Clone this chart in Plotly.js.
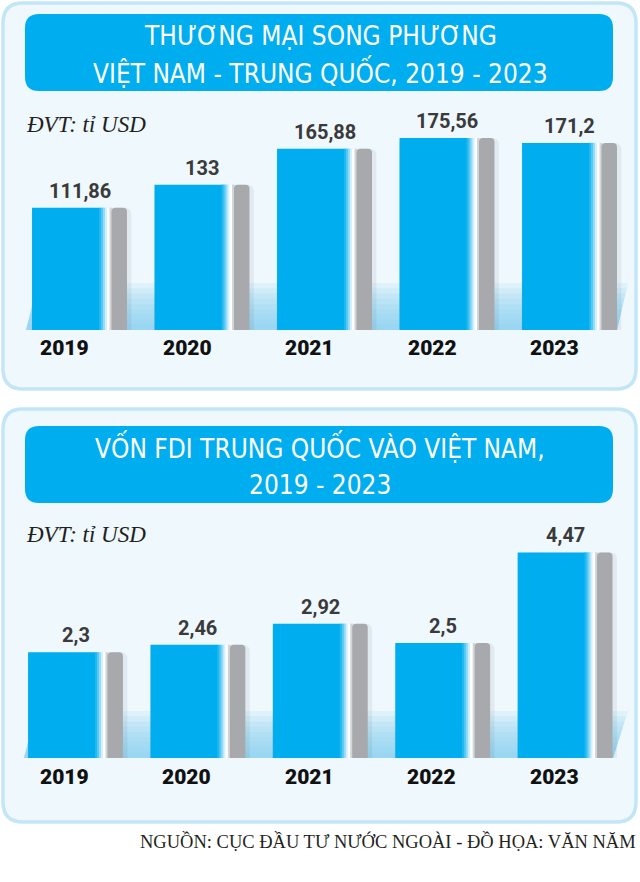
<!DOCTYPE html>
<html>
<head>
<meta charset="utf-8">
<script src="https://cdn.plot.ly/plotly-3.0.1.min.js"></script>
<style>
  html, body { margin: 0; padding: 0; background: #ffffff; }
  #chart { width: 640px; height: 882px; }
</style>
</head>
<body>
<div id="chart"></div>
<script>
// ---------------- DATA ----------------
const years = ['2019', '2020', '2021', '2022', '2023'];
const tradeValues = [111.86, 133, 165.88, 175.56, 171.2];   // tỉ USD
const fdiValues = [2.3, 2.46, 2.92, 2.5, 4.47];              // tỉ USD
const tradeTitle = ['THƯƠNG MẠI SONG PHƯƠNG', 'VIỆT NAM - TRUNG QUỐC, 2019 - 2023'];
const fdiTitle = ['VỐN FDI TRUNG QUỐC VÀO VIỆT NAM,', '2019 - 2023'];
const unitLabel = 'ĐVT: tỉ USD';
const sourceLabel = 'NGUỒN: CỤC ĐẦU TƯ NƯỚC NGOÀI - ĐỒ HỌA: VĂN NĂM';

// ---------------- STYLE / GEOMETRY ----------------
const W = 640, H = 882;
const fx = x => x / W;
const fy = y => 1 - y / H;
const NARROW = '"Liberation Sans Narrow", "DejaVu Sans Condensed", "Arial Narrow", sans-serif';
const LABEL = 'Roboto, "DejaVu Sans Condensed", sans-serif';
const SERIF = '"Liberation Serif", "DejaVu Serif", serif';

const BAR_W = 0.775;           // in category units
const BAR_PX = 95;             // reference px width for segments
// [start px, end px, colour, corner radius]
const segs = [
  [0, 67, '#00aeef', 0],
  [67, 69, '#22b8f0', 0],
  [69, 71, '#55c8f3', 0],
  [71, 73, '#94dbf7', 0],
  [73, 75, '#d4f0fb', 0],
  [75, 77.5, '#ffffff', 0],
  [77.5, 79.5, '#d4d5d7', 0],
  [79.5, 95, '#a7a9ac', 4]
];

function fmt(v) { return String(v).replace('.', ','); }

function barTraces(xa, ya, vals) {
  const out = [];
  // soft shadow
  out.push({
    type: 'bar', x: years, y: vals, xaxis: xa, yaxis: ya,
    offset: -BAR_W / 2 - 0.004, width: BAR_W + 0.04,
    marker: { color: 'rgba(60,60,70,0.07)', cornerradius: 6, line: { width: 0 } },
    hoverinfo: 'skip', showlegend: false
  });
  segs.forEach(s => {
    const extra = s[1] < BAR_PX ? 0.6 : 0;
    out.push({
      type: 'bar', x: years, y: vals, xaxis: xa, yaxis: ya,
      offset: -BAR_W / 2 + s[0] / BAR_PX * BAR_W,
      width: (s[1] - s[0] + extra) / BAR_PX * BAR_W,
      marker: { color: s[2], cornerradius: s[3], line: { width: 0 } },
      hoverinfo: 'skip', showlegend: false
    });
  });
  return out;
}

function rr(x0, y0, x1, y1, r) {
  return 'M ' + fx(x0 + r) + ',' + fy(y0) +
    ' L ' + fx(x1 - r) + ',' + fy(y0) +
    ' Q ' + fx(x1) + ',' + fy(y0) + ' ' + fx(x1) + ',' + fy(y0 + r) +
    ' L ' + fx(x1) + ',' + fy(y1 - r) +
    ' Q ' + fx(x1) + ',' + fy(y1) + ' ' + fx(x1 - r) + ',' + fy(y1) +
    ' L ' + fx(x0 + r) + ',' + fy(y1) +
    ' Q ' + fx(x0) + ',' + fy(y1) + ' ' + fx(x0) + ',' + fy(y1 - r) +
    ' L ' + fx(x0) + ',' + fy(y0 + r) +
    ' Q ' + fx(x0) + ',' + fy(y0) + ' ' + fx(x0 + r) + ',' + fy(y0) + ' Z';
}

function band(yt, yb, xlb, xlt, xrb, xrt, n) {
  const out = [];
  for (let i = 0; i < n; i++) {
    const t = i / n;
    const y = yt + t * (yb - yt);
    const xl = xlt + t * (xlb - xlt);
    const xr = xrt + t * (xrb - xrt);
    out.push({
      type: 'path', xref: 'paper', yref: 'paper', layer: 'below',
      path: 'M ' + fx(xl) + ',' + fy(y) + ' L ' + fx(xr) + ',' + fy(y) +
        ' L ' + fx(xrb) + ',' + fy(yb) + ' L ' + fx(xlb) + ',' + fy(yb) + ' Z',
      fillcolor: 'rgba(130,205,240,0.14)', line: { width: 0 }
    });
  }
  return out;
}

const shapes = [
  // panel 1
  { type: 'path', xref: 'paper', yref: 'paper', layer: 'below', path: rr(3, 3, 636, 389, 20),
    fillcolor: '#eef8fd', line: { color: '#c3e6f7', width: 3.5 } },
  { type: 'path', xref: 'paper', yref: 'paper', layer: 'below', path: rr(25, 14, 613, 91, 14),
    fillcolor: '#00aeef', line: { width: 0 } },
  // panel 2
  { type: 'path', xref: 'paper', yref: 'paper', layer: 'below', path: rr(3, 409, 636, 822, 20),
    fillcolor: '#eef8fd', line: { color: '#c3e6f7', width: 3.5 } },
  { type: 'path', xref: 'paper', yref: 'paper', layer: 'below', path: rr(25, 426, 613, 503, 14),
    fillcolor: '#00aeef', line: { width: 0 } }
].concat(
  band(283, 330, 26, 38, 617, 628, 9),
  band(711, 758, 24, 36, 613, 628, 9)
);

// ---------------- ANNOTATIONS ----------------
const ann = [];
function txt(text, x, y, size, color, family, opts) {
  ann.push(Object.assign({
    text: text, xref: 'paper', yref: 'paper', x: fx(x), y: fy(y),
    xanchor: 'center', yanchor: 'middle', showarrow: false,
    font: { family: family, size: size, color: color }
  }, opts || {}));
}
txt(tradeTitle[0], 320, 36, 26, '#ffffff', NARROW);
txt(tradeTitle[1], 320, 72, 26, '#ffffff', NARROW);
txt(fdiTitle[0], 320, 447, 26, '#ffffff', NARROW);
txt(fdiTitle[1], 320, 485, 26, '#ffffff', NARROW);
txt('<i>' + unitLabel + '</i>', 24, 124, 23, '#231f20', SERIF, { xanchor: 'left' });
txt('<i>' + unitLabel + '</i>', 24, 534, 23, '#231f20', SERIF, { xanchor: 'left' });
txt(sourceLabel, 638, 841, 18.5, '#231f20', SERIF, { xanchor: 'right' });

function valueLabels(xa, ya, vals, yearY, yearShift) {
  years.forEach((yr, i) => {
    // category axes take the category's index as annotation position
    ann.push({
      text: fmt(vals[i]), xref: xa, yref: ya, x: i, y: vals[i],
      xanchor: 'center', yanchor: 'bottom', yshift: 3, showarrow: false,
      font: { family: LABEL, size: 20, color: '#3a3a3a', weight: 'bold' }
    });
    ann.push({
      text: yr, xref: xa, yref: 'paper', x: i, y: fy(yearY), xshift: yearShift,
      xanchor: 'center', yanchor: 'middle', showarrow: false,
      font: { family: LABEL, size: 21, color: '#111111', weight: 900 }
    });
  });
}
valueLabels('x', 'y', tradeValues, 348, -15);
valueLabels('x2', 'y2', fdiValues, 777, -11);

// ---------------- LAYOUT ----------------
const r1a = -79.5 / 122.5, r1b = r1a + W / 122.5;
const r2a = -75.5 / 122.4, r2b = r2a + W / 122.4;
const baseAxis = { showgrid: false, zeroline: false, showline: false, ticks: '', showticklabels: false, fixedrange: true };

const layout = {
  width: W, height: H,
  margin: { l: 0, r: 0, t: 0, b: 0, pad: 0 },
  paper_bgcolor: '#ffffff', plot_bgcolor: 'rgba(0,0,0,0)',
  barmode: 'overlay', showlegend: false,
  xaxis: Object.assign({}, baseAxis, { type: 'category', domain: [0, 1], range: [r1a, r1b], anchor: 'y' }),
  yaxis: Object.assign({}, baseAxis, { domain: [fy(330), fy(110)], range: [0, 220 / 1.093], anchor: 'x' }),
  xaxis2: Object.assign({}, baseAxis, { type: 'category', domain: [0, 1], range: [r2a, r2b], anchor: 'y2' }),
  yaxis2: Object.assign({}, baseAxis, { domain: [fy(758), fy(530)], range: [0, 228 / 46], anchor: 'x2' }),
  shapes: shapes,
  annotations: ann
};

const data = barTraces('x', 'y', tradeValues).concat(barTraces('x2', 'y2', fdiValues));

Plotly.newPlot('chart', data, layout, { staticPlot: true, displayModeBar: false });
</script>
</body>
</html>
